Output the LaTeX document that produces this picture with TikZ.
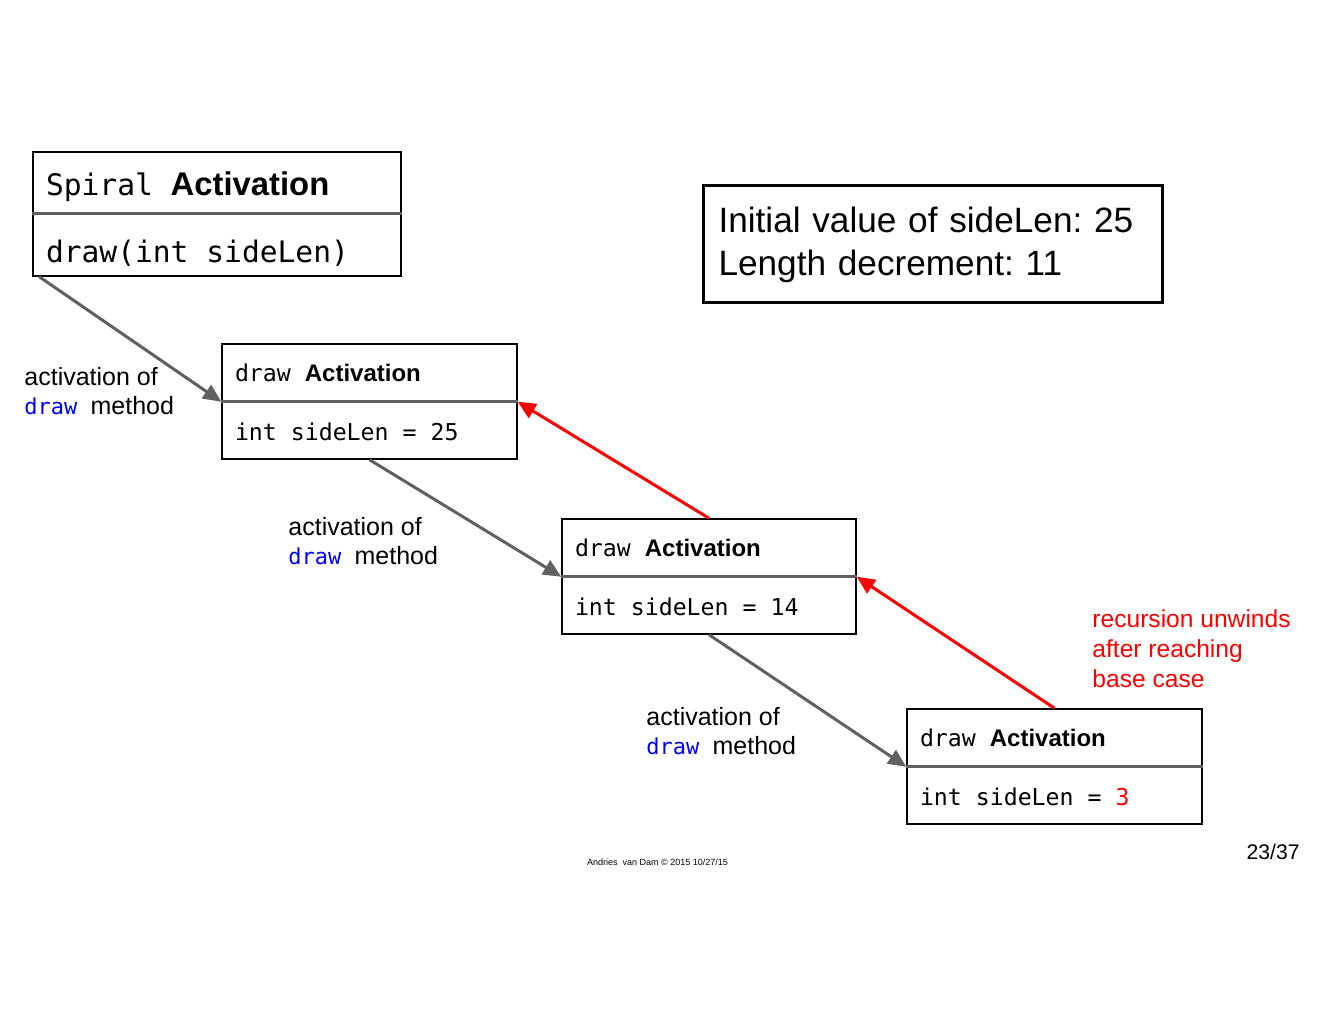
\documentclass[tikz,border=0pt]{standalone}
\usepackage{fontspec}
\setmainfont{Liberation Sans}
\newfontfamily\monof{DejaVu Sans Mono}
\usetikzlibrary{arrows.meta}
\definecolor{dgray}{HTML}{606060}
\definecolor{codeblue}{HTML}{0000FF}
\definecolor{myred}{HTML}{FF0000}
\newcommand\msp{\phantom{0}}
\frenchspacing
\tikzset{
  part/.style={draw=black, line width=0.75pt, fill=white, inner xsep=6.5pt, inner ysep=0pt, align=left, anchor=center},
  divider/.style={draw=dgray, line width=1.5pt},
  callarrow/.style={draw=dgray, line width=1.5pt, -{Triangle[length=9pt,width=8pt]}},
  backarrow/.style={draw=myred, line width=1.5pt, -{Triangle[length=9pt,width=8pt]}},
  lbl/.style={inner sep=0pt, align=left, anchor=west, font=\fontsize{12.5}{14.5}\selectfont},
}
\begin{document}
\begin{tikzpicture}[x=0.5pt, y=-0.5pt]
\useasboundingbox (0,0) rectangle (1320,1020);

% Spiral box
\node[part, minimum width=184pt, text width=171pt, minimum height=30.5pt, inner xsep=6.5pt] (spt) at (217,182.5)
  {\raisebox{-6.6pt}[0pt][0pt]{{\monof\fontsize{14.8}{16}\selectfont Spiral\msp}{\fontsize{16.4}{18}\selectfont\bfseries Activation}}};
\node[part, minimum width=184pt, text width=171pt, minimum height=31.5pt] (spb) at (217,244.5)
  {\raisebox{-9pt}[0pt][0pt]{\monof\fontsize{14.8}{16}\selectfont draw(int\msp sideLen)}};
\draw[divider] (spt.south west) -- (spt.south east);

% Box 1
\node[part, minimum width=147.5pt, text width=134.5pt, minimum height=28.5pt] (b1t) at (369.5,372.5)
  {{\monof\fontsize{11.6}{13}\selectfont draw\msp}{\fontsize{12}{14}\selectfont\bfseries Activation}};
\node[part, minimum width=147.5pt, text width=134.5pt, minimum height=29pt] (b1b) at (369.5,430)
  {\raisebox{-5.2pt}[0pt][0pt]{\monof\fontsize{11.6}{13}\selectfont int\msp sideLen\msp=\msp 25}};
\draw[divider] (b1t.south west) -- (b1t.south east);

% Box 2
\node[part, minimum width=147pt, text width=134pt, minimum height=28.5pt] (b2t) at (709,547.5)
  {{\monof\fontsize{11.6}{13}\selectfont draw\msp}{\fontsize{12}{14}\selectfont\bfseries Activation}};
\node[part, minimum width=147pt, text width=134pt, minimum height=29pt] (b2b) at (709,605)
  {\raisebox{-5.2pt}[0pt][0pt]{\monof\fontsize{11.6}{13}\selectfont int\msp sideLen\msp=\msp 14}};
\draw[divider] (b2t.south west) -- (b2t.south east);

% Box 3
\node[part, minimum width=147.5pt, text width=134.5pt, minimum height=28.5pt] (b3t) at (1054.5,737.5)
  {{\monof\fontsize{11.6}{13}\selectfont draw\msp}{\fontsize{12}{14}\selectfont\bfseries Activation}};
\node[part, minimum width=147.5pt, text width=134.5pt, minimum height=29pt] (b3b) at (1054.5,795)
  {\raisebox{-5.2pt}[0pt][0pt]{\monof\fontsize{11.6}{13}\selectfont int\msp sideLen\msp=\msp{\color{myred}3}}};
\draw[divider] (b3t.south west) -- (b3t.south east);

% Info box
\node[draw=black, line width=1.5pt, minimum width=229.5pt, minimum height=58.5pt, text width=214pt,
  inner xsep=7.5pt, inner ysep=0pt, align=left, font=\fontsize{17.6}{21.5}\selectfont] (info) at (932.5,244.5)
  {\raisebox{-1pt}{\parbox{214pt}{Initial value of sideLen: 25\\Length decrement: 11}}};

% Call arrows
\draw[callarrow] ([xshift=3.5pt]spb.south west) -- (b1t.south west);
\draw[callarrow] (b1b.south) -- (b2t.south west);
\draw[callarrow] (b2b.south) -- (b3t.south west);

% Return arrows
\draw[backarrow] (b2t.north) -- (b1t.south east);
\draw[backarrow] (b3t.north) -- (b2t.south east);

% Labels
\node[lbl] (l1) at (24,391.5) {activation of\\{\monof\fontsize{11}{14.5}\selectfont\color{codeblue}draw\msp}method};
\node[lbl] (l2) at (288,541.5) {activation of\\{\monof\fontsize{11}{14.5}\selectfont\color{codeblue}draw\msp}method};
\node[lbl] (l3) at (646,731.5) {activation of\\{\monof\fontsize{11}{14.5}\selectfont\color{codeblue}draw\msp}method};

\node[lbl, text=myred, font=\fontsize{12.3}{15}\selectfont] (unw) at (1092,649)
  {recursion unwinds\\after reaching\\base case};

% Footer
\node[inner sep=0pt, anchor=east, font=\fontsize{10.6}{12}\selectfont] (pg) at (1300,852) {23/37};
\node[inner sep=0pt, font=\fontsize{4.5}{5}\selectfont] (foot) at (657.5,862) {Andries\ \ van Dam \copyright\ 2015 10/27/15};
\end{tikzpicture}
\end{document}
